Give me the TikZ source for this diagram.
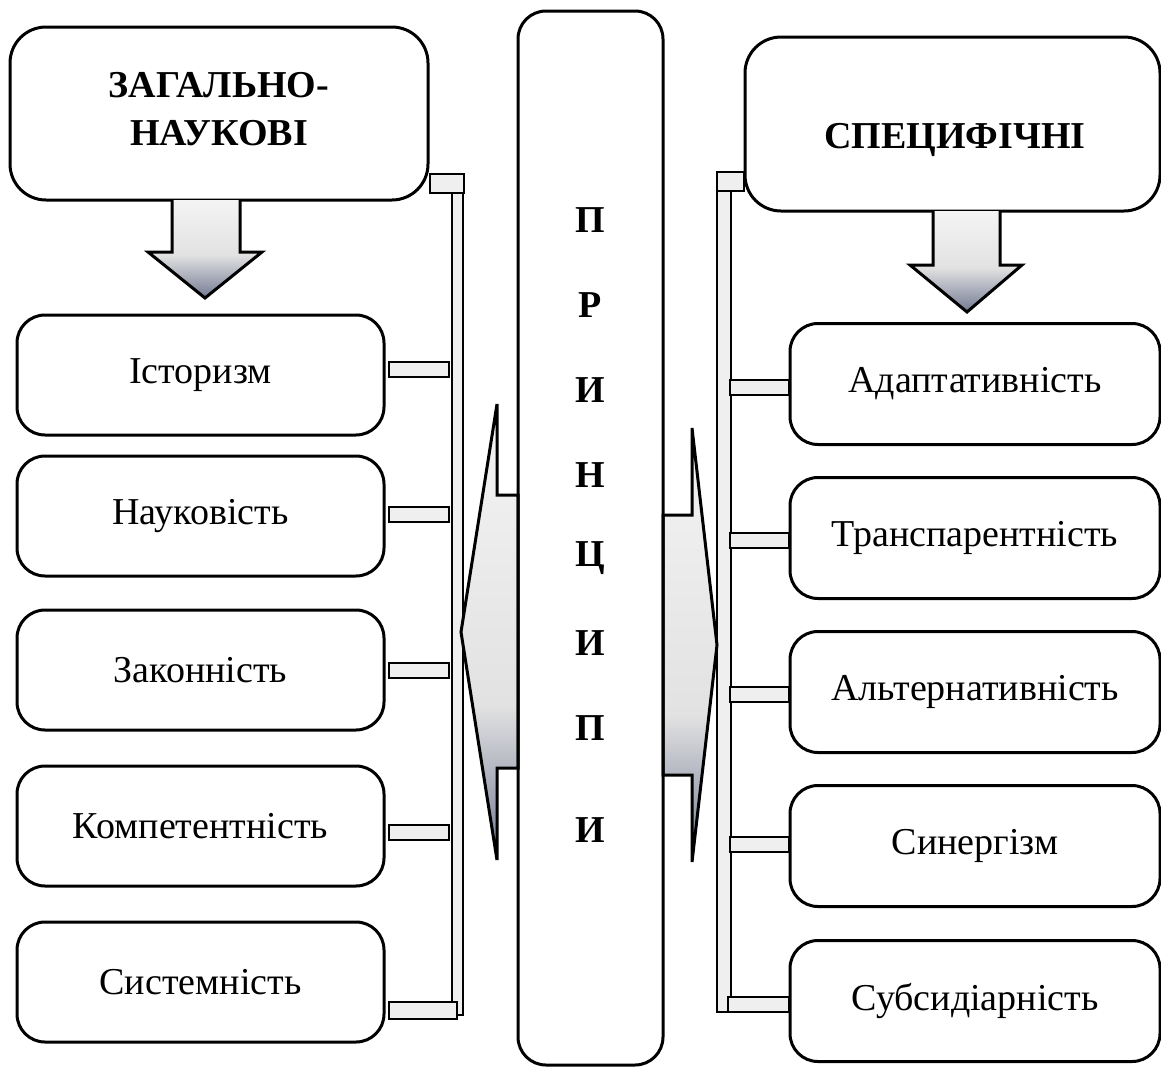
\documentclass[tikz,border=0pt]{standalone}
\usepackage{fontspec}
\setmainfont{Liberation Serif}[BoldFont={Liberation Serif Bold},ItalicFont={Liberation Serif Italic}]
\usetikzlibrary{calc}
\definecolor{barfill}{HTML}{EFEFEF}
\definecolor{shdark}{HTML}{737A93}
\definecolor{shlight}{HTML}{F4F4F4}
\definecolor{shmid}{HTML}{E2E2E2}
\pgfdeclareverticalshading{bigarrowshade}{100bp}{color(0bp)=(shdark); color(25bp)=(shdark); color(42bp)=(shmid); color(75bp)=(shlight); color(100bp)=(shlight)}
\pgfdeclareverticalshading{downarrowshade}{100bp}{color(0bp)=(shdark); color(25bp)=(shdark); color(47bp)=(shmid); color(75bp)=(shlight); color(100bp)=(shlight)}
\begin{document}
\begin{tikzpicture}[x=1pt,y=-1pt,line width=3pt,
  txt/.style={font=\fontsize{38}{44}\selectfont},
  btxt/.style={font=\fontsize{38}{48}\selectfont\bfseries, align=center},
  topbox/.style={draw, rounded corners=36pt, inner sep=0pt},
  itembox/.style={draw, rounded corners=28pt, inner sep=0pt, txt},
  bar/.style={draw, fill=barfill, line width=2pt},
  bigarr/.style={draw, shading=bigarrowshade, line width=3pt},
  downarr/.style={draw, shading=downarrowshade, line width=3pt}]
\useasboundingbox (0,0) rectangle (1161,1068);

% top boxes
\node[topbox, minimum width=418pt, minimum height=173pt] (gen) at (219,113.5) {};
\node[btxt] (genT) at (219,109) {ЗАГАЛЬНО-\\НАУКОВІ};
\node[topbox, minimum width=415pt, minimum height=174pt] (spec) at (952.5,124) {};
\node[btxt] (specT) at (955,140) {СПЕЦИФІЧНІ};

% down arrows
\draw[downarr] (172,200) -- (172,252) -- (148,252) -- (205,298) -- (262,252) -- (240,252) -- (240,200);
\draw[downarr] (933,211) -- (933,265) -- (910,265) -- (967,312) -- (1022,265) -- (1000,265) -- (1000,211);

% left items
\node[itembox, minimum width=367pt, minimum height=120pt] (L1) at (200.5,375) {Історизм};
\node[itembox, minimum width=367pt, minimum height=120pt] (L2) at (200.5,516) {Науковість};
\node[itembox, minimum width=367pt, minimum height=120pt] (L3) at (200.5,670) {Законність};
\node[itembox, minimum width=367pt, minimum height=120pt] (L4) at (200.5,826) {Компетентність};
\node[itembox, minimum width=367pt, minimum height=120pt] (L5) at (200.5,982) {Системність};

% right items
\node[itembox, minimum width=370pt, minimum height=121pt] (R1) at (975,384) {Адаптативність};
\node[itembox, minimum width=370pt, minimum height=121pt] (R2) at (975,538) {Транспарентність};
\node[itembox, minimum width=370pt, minimum height=121pt] (R3) at (975,692) {Альтернативність};
\node[itembox, minimum width=370pt, minimum height=121pt] (R4) at (975,846) {Синергізм};
\node[itembox, minimum width=370pt, minimum height=121pt] (R5) at (975,1001) {Субсидіарність};

% left bars
\draw[bar] (452,178) rectangle (463,1015);
\draw[bar] ($(gen.east)+(0,60)$) rectangle ++(34,19);
\draw[bar] ($(L1.east)+(3,-13)$) rectangle ++(60,15);
\draw[bar] ($(L2.east)+(3,-9)$) rectangle ++(60,15);
\draw[bar] ($(L3.east)+(3,-7)$) rectangle ++(60,15);
\draw[bar] ($(L4.east)+(3,-1)$) rectangle ++(60,15);
\draw[bar] ($(L5.east)+(3,20)$) rectangle ++(68,17);

% right bars
\draw[bar] (717,172) rectangle (731,1012);
\draw[bar] (717,172) rectangle (spec.west |- 0,191);
\draw[bar] ($(R1.west)+(-59,-4)$) rectangle ++(59,15);
\draw[bar] ($(R2.west)+(-59,-5)$) rectangle ++(59,15);
\draw[bar] ($(R3.west)+(-59,-5)$) rectangle ++(59,15);
\draw[bar] ($(R4.west)+(-59,-9)$) rectangle ++(59,15);
\draw[bar] ($(R5.west)+(-61,-4)$) rectangle ++(61,15);

% big side arrows
\draw[bigarr] (518,495) -- (497,495) -- (497,404) -- (461,632) -- (497,860) -- (497,768) -- (518,768) -- cycle;
\draw[bigarr] (663,515) -- (692,515) -- (692,428) -- (717,645) -- (692,862) -- (692,775) -- (663,775) -- cycle;

% centre column
\node[draw, rounded corners=28pt, minimum width=145pt, minimum height=1054pt, inner sep=0pt] (ctr) at (590.5,538) {};
\node[btxt] (c1) at (590,220) {П};
\node[btxt] (c2) at (590,305) {Р};
\node[btxt] (c3) at (590,390) {И};
\node[btxt] (c4) at (590,475) {Н};
\node[btxt] (c5) at (590,558) {Ц};
\node[btxt] (c6) at (590,643) {И};
\node[btxt] (c7) at (590,728) {П};
\node[btxt] (c8) at (590,830) {И};
\end{tikzpicture}
\end{document}
